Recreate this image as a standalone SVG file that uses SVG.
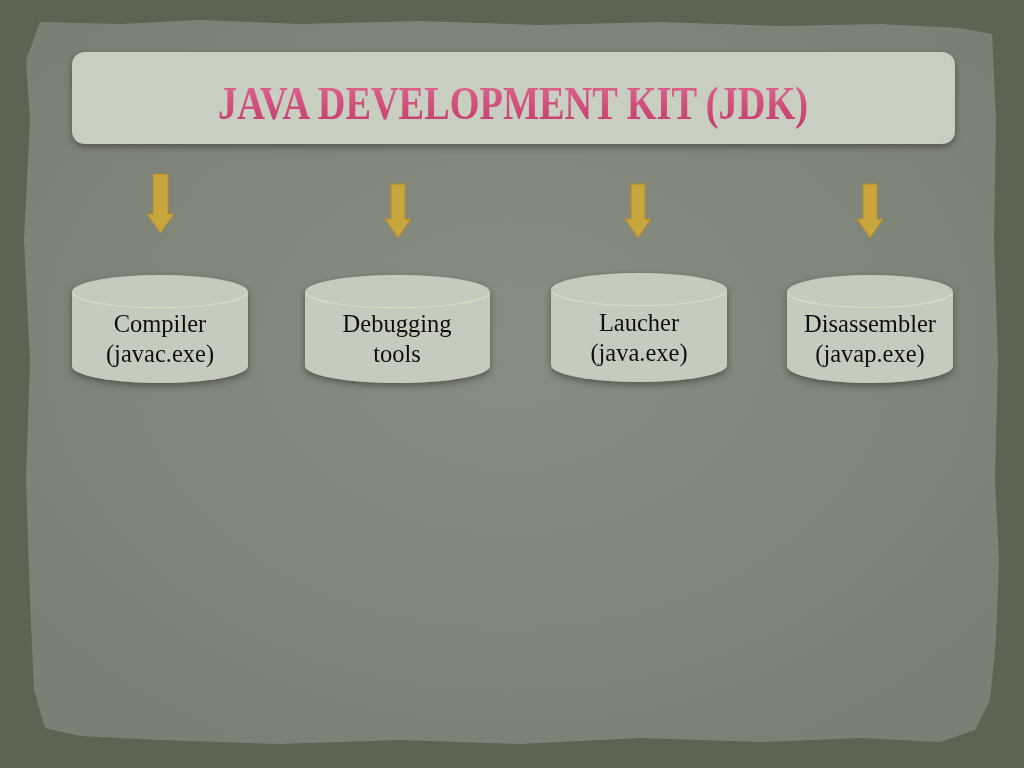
<svg xmlns="http://www.w3.org/2000/svg" width="1024" height="768" viewBox="0 0 1024 768">
<defs>
<style>
.lbl{font-family:"Liberation Serif","DejaVu Serif",serif;font-size:24.5px;fill:#111;text-anchor:middle}
.cyl{fill:#c6ccbd}
.rim{fill:none;stroke:#d8dcc0;stroke-width:1.2}
.arr{fill:#c9a53e;stroke:#b08c2c;stroke-width:1}
</style>
<radialGradient id="paper" cx="50%" cy="45%" r="65%">
<stop offset="0" stop-color="#878d80"/>
<stop offset="1" stop-color="#7a8073"/>
</radialGradient>
<filter id="sh" x="-5%" y="-10%" width="110%" height="130%">
<feDropShadow dx="0" dy="3" stdDeviation="3" flood-color="#2e3328" flood-opacity="0.55"/>
</filter>
<linearGradient id="title" x1="0" y1="0" x2="0" y2="1">
<stop offset="0" stop-color="#e06a92"/>
<stop offset="1" stop-color="#c23a68"/>
</linearGradient>
</defs>
<rect width="1024" height="768" fill="#5d6452"/>
<path fill="url(#paper)" d="M40,22 L120,24 L200,20 L300,24 L420,21 L540,25 L660,22 L780,26 L880,24 L960,28 L992,34 L996,120 L994,240 L998,360 L995,480 L999,560 L996,640 L990,700 L975,730 L940,742 L860,738 L760,742 L640,738 L520,744 L400,740 L280,744 L160,740 L80,736 L45,728 L34,690 L30,600 L26,480 L30,360 L24,240 L30,120 L26,60 Z"/>
<g id="header" filter="url(#sh)">
<rect x="72" y="52" width="883" height="92" rx="13" fill="#c8cec0"/>
<text x="513" y="119" font-family="Liberation Serif,DejaVu Serif,serif" font-size="47" font-weight="bold" fill="url(#title)" text-anchor="middle" textLength="590" lengthAdjust="spacingAndGlyphs">JAVA DEVELOPMENT KIT (JDK)</text>
</g>
<g id="connectors">
<path class="arr" d="M153,174 H168 V214 H174 L160.5,233 L147,214 H153 Z"/>
<path class="arr" d="M391,184 H405 V219 H411 L398,238 L385,219 H391 Z"/>
<path class="arr" d="M631,184 H645 V219 H651 L638,238 L625,219 H631 Z"/>
<path class="arr" d="M863,184 H877 V219 H883 L870,238 L857,219 H863 Z"/>
</g>
<g id="compiler" filter="url(#sh)">
<path class="cyl" d="M72,292 A88,17 0 0 1 248,292 V366 A88,17 0 0 1 72,366 Z"/>
<path class="rim" d="M73,294 A88,16 0 0 0 247,294"/>
<text class="lbl" x="160" y="332">Compiler</text>
<text class="lbl" x="160" y="362">(javac.exe)</text>
</g>
<g id="debugging" filter="url(#sh)">
<path class="cyl" d="M305,292 A92.5,17 0 0 1 490,292 V366 A92.5,17 0 0 1 305,366 Z"/>
<path class="rim" d="M306,294 A92.5,16 0 0 0 489,294"/>
<text class="lbl" x="397" y="332">Debugging</text>
<text class="lbl" x="397" y="362">tools</text>
</g>
<g id="launcher" filter="url(#sh)">
<path class="cyl" d="M551,290 A88,17 0 0 1 727,290 V365 A88,17 0 0 1 551,365 Z"/>
<path class="rim" d="M552,292 A88,16 0 0 0 726,292"/>
<text class="lbl" x="639" y="331">Laucher</text>
<text class="lbl" x="639" y="361">(java.exe)</text>
</g>
<g id="disassembler" filter="url(#sh)">
<path class="cyl" d="M787,292 A83,17 0 0 1 953,292 V366 A83,17 0 0 1 787,366 Z"/>
<path class="rim" d="M788,294 A83,16 0 0 0 952,294"/>
<text class="lbl" x="870" y="332">Disassembler</text>
<text class="lbl" x="870" y="362">(javap.exe)</text>
</g>
</svg>
